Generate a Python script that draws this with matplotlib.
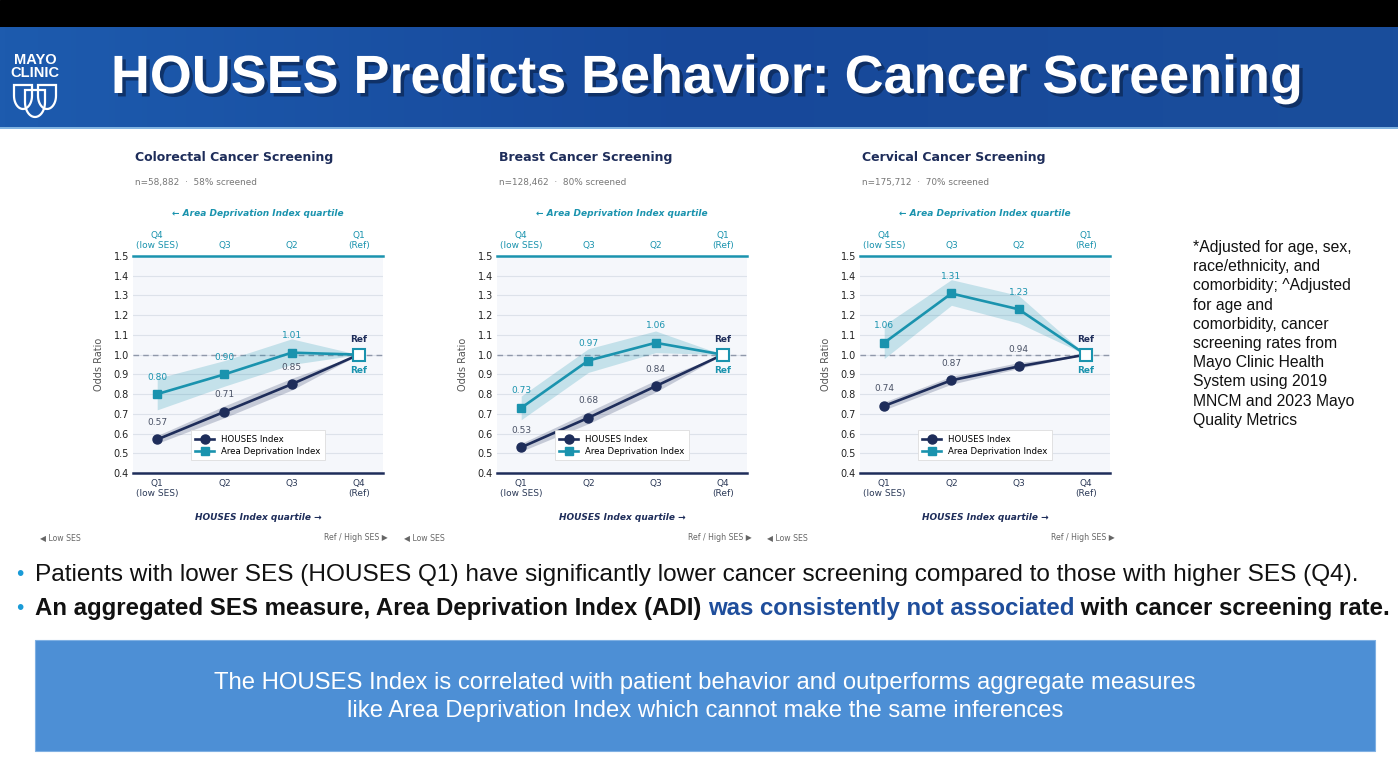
import numpy as np
import matplotlib
matplotlib.use("Agg")
import matplotlib.pyplot as plt
import matplotlib.patheffects as pe
from matplotlib.patches import Rectangle, Polygon

W, H = 1398, 757

# ---- data ----
panel_titles = ["Colorectal Cancer Screening", "Breast Cancer Screening", "Cervical Cancer Screening"]
panel_subtitles = ["n=58,882  ·  58% screened", "n=128,462  ·  80% screened", "n=175,712  ·  70% screened"]

houses_ticks = ["Q1\n(low SES)", "Q2", "Q3", "Q4\n(Ref)"]
adi_ticks = ["Q4\n(low SES)", "Q3", "Q2", "Q1\n(Ref)"]
quartile_pos = [0, 1, 2, 3]

colorectal_houses = [0.57, 0.71, 0.85, 1.00]
colorectal_houses_lo = [0.55, 0.68, 0.82, 1.00]
colorectal_houses_hi = [0.59, 0.74, 0.88, 1.00]
colorectal_adi = [0.80, 0.90, 1.01, 1.00]
colorectal_adi_lo = [0.72, 0.84, 0.95, 1.00]
colorectal_adi_hi = [0.88, 0.97, 1.08, 1.00]

breast_houses = [0.53, 0.68, 0.84, 1.00]
breast_houses_lo = [0.51, 0.65, 0.81, 1.00]
breast_houses_hi = [0.55, 0.71, 0.87, 1.00]
breast_adi = [0.73, 0.97, 1.06, 1.00]
breast_adi_lo = [0.67, 0.91, 1.01, 1.00]
breast_adi_hi = [0.79, 1.03, 1.12, 1.00]

cervical_houses = [0.74, 0.87, 0.94, 1.00]
cervical_houses_lo = [0.72, 0.85, 0.93, 1.00]
cervical_houses_hi = [0.76, 0.89, 0.96, 1.00]
cervical_adi = [1.06, 1.31, 1.23, 1.00]
cervical_adi_lo = [0.98, 1.25, 1.16, 1.00]
cervical_adi_hi = [1.15, 1.38, 1.30, 1.00]

y_ticks = [0.4, 0.5, 0.6, 0.7, 0.8, 0.9, 1.0, 1.1, 1.2, 1.3, 1.4, 1.5]

footnote = ("*Adjusted for age, sex,\nrace/ethnicity, and\ncomorbidity; ^Adjusted\nfor age and\n"
            "comorbidity, cancer\nscreening rates from\nMayo Clinic Health\nSystem using 2019\n"
            "MNCM and 2023 Mayo\nQuality Metrics")
bullet1 = "Patients with lower SES (HOUSES Q1) have significantly lower cancer screening compared to those with higher SES (Q4)."
bullet2_parts = ["An aggregated SES measure, Area Deprivation Index (ADI) ",
                 "was consistently not associated",
                 " with cancer screening rate."]
box_text = ("The HOUSES Index is correlated with patient behavior and outperforms aggregate measures\n"
            "like Area Deprivation Index which cannot make the same inferences")

panels = [
    (colorectal_houses, colorectal_houses_lo, colorectal_houses_hi, colorectal_adi, colorectal_adi_lo, colorectal_adi_hi),
    (breast_houses, breast_houses_lo, breast_houses_hi, breast_adi, breast_adi_lo, breast_adi_hi),
    (cervical_houses, cervical_houses_lo, cervical_houses_hi, cervical_adi, cervical_adi_lo, cervical_adi_hi),
]

NAVY = "#1e2d5a"
TEAL = "#1a93ae"
SLIDE_FONT = "Liberation Sans"

fig = plt.figure(figsize=(W / 100, H / 100), dpi=100)
fig.patch.set_facecolor("white")

# background axes in pixel coordinates
bg = fig.add_axes([0, 0, 1, 1])
bg.set_xlim(0, W)
bg.set_ylim(H, 0)
bg.axis("off")

# black strip + header gradient
bg.add_patch(Rectangle((0, 0), W, 27, color="black", zorder=1))
grad = np.linspace(0, 1, 256).reshape(1, -1)
cmap = matplotlib.colors.LinearSegmentedColormap.from_list("hdr", ["#1d5bae", "#17489a", "#1a4e9c"])
bg.imshow(grad, cmap=cmap, extent=(0, W, 127, 27), aspect="auto", zorder=1)
bg.plot([0, W], [127.5, 127.5], color="#6aa5dc", lw=1.2, zorder=2)
bg.set_xlim(0, W)
bg.set_ylim(H, 0)

title = bg.text(707, 79, "HOUSES Predicts Behavior: Cancer Screening", color="white",
                fontsize=38.8, fontweight="bold", family=SLIDE_FONT, ha="center", va="center", zorder=3)
title.set_path_effects([pe.SimplePatchShadow(offset=(2.5, -2.5), shadow_rgbFace="#0b2550", alpha=0.7),
                        pe.Normal()])

# logo
bg.text(35, 60, "MAYO", color="white", fontsize=10.5, fontweight="bold", family=SLIDE_FONT,
        ha="center", va="center", zorder=3)
bg.text(35, 73, "CLINIC", color="white", fontsize=10.5, fontweight="bold", family=SLIDE_FONT,
        ha="center", va="center", zorder=3)


def shield(cx, top, w, h):
    t = np.linspace(0, np.pi / 2, 12)
    right = [(cx + w / 2 * np.cos(a), top + h * 0.45 + h * 0.55 * np.sin(a)) for a in t]
    left = [(cx - w / 2 * np.cos(a), top + h * 0.45 + h * 0.55 * np.sin(a)) for a in t[::-1]]
    pts = [(cx - w / 2, top), (cx + w / 2, top)] + right + left
    return Polygon(pts, closed=True, fill=False, edgecolor="white", lw=1.6, zorder=3)


bg.add_patch(shield(23, 85, 18, 24))
bg.add_patch(shield(47, 85, 18, 24))
bg.add_patch(shield(35, 90, 20, 27))

# ---- chart panels ----
ax_left = [133, 497, 860]
ax_top, ax_w, ax_h = 256, 250, 217

for i, (h_or, h_lo, h_hi, a_or, a_lo, a_hi) in enumerate(panels):
    x0 = ax_left[i]
    cx = x0 + ax_w / 2
    ax = fig.add_axes([x0 / W, 1 - (ax_top + ax_h) / H, ax_w / W, ax_h / H])
    ax.set_facecolor("#f5f7fb")
    ax.set_xlim(-0.36, 3.36)
    ax.set_ylim(0.4, 1.5)
    ax.set_yticks(y_ticks)
    ax.set_yticklabels([f"{v:.1f}" for v in y_ticks])
    ax.grid(axis="y", color="#dde2ea", lw=0.8)
    ax.set_axisbelow(True)
    ax.tick_params(axis="y", length=0, pad=3, labelsize=7, labelcolor="#222222")
    ax.set_xticks(quartile_pos)
    ax.set_xticklabels(houses_ticks)
    ax.tick_params(axis="x", length=0, pad=4, labelsize=6.5, labelcolor="#2c3a58")
    for s in ["left", "right"]:
        ax.spines[s].set_visible(False)
    ax.spines["bottom"].set_color(NAVY)
    ax.spines["bottom"].set_linewidth(1.8)
    ax.spines["top"].set_color(TEAL)
    ax.spines["top"].set_linewidth(1.8)

    sec = ax.secondary_xaxis("top")
    sec.set_xticks(quartile_pos)
    sec.set_xticklabels(adi_ticks)
    sec.tick_params(length=0, pad=4, labelsize=6.5, labelcolor=TEAL)
    sec.spines["top"].set_visible(False)

    ax.axhline(1.0, color="#8f98aa", lw=1, ls=(0, (4, 3)), zorder=1)

    ax.fill_between(quartile_pos, a_lo, a_hi, color=TEAL, alpha=0.22, lw=0, zorder=2)
    ax.fill_between(quartile_pos, h_lo, h_hi, color=NAVY, alpha=0.22, lw=0, zorder=2)
    ax.plot(quartile_pos, a_or, color=TEAL, lw=1.9, zorder=3)
    ax.plot(quartile_pos[:3], a_or[:3], ls="none", marker="s", ms=6, color=TEAL, zorder=4)
    ax.plot(quartile_pos, h_or, color=NAVY, lw=1.9, zorder=3)
    ax.plot(quartile_pos[:3], h_or[:3], ls="none", marker="o", ms=6.5, color=NAVY, zorder=4)
    ax.plot([quartile_pos[3]], [a_or[3]], marker="s", ms=8, mfc="white", mec=TEAL, mew=1.5,
            ls="none", zorder=5)

    for x, v in zip(quartile_pos[:3], h_or[:3]):
        ax.annotate(f"{v:.2f}", (x, v), xytext=(0, 9), textcoords="offset points",
                    ha="center", va="bottom", fontsize=6.5, color="#4a5266", zorder=6)
    for x, v in zip(quartile_pos[:3], a_or[:3]):
        ax.annotate(f"{v:.2f}", (x, v), xytext=(0, 9), textcoords="offset points",
                    ha="center", va="bottom", fontsize=6.5, color=TEAL, zorder=6)
    ax.annotate("Ref", (3, 1.0), xytext=(0, 8), textcoords="offset points", ha="center",
                va="bottom", fontsize=6.5, fontweight="bold", color=NAVY)
    ax.annotate("Ref", (3, 1.0), xytext=(0, -8), textcoords="offset points", ha="center",
                va="top", fontsize=6.5, fontweight="bold", color=TEAL)

    hl, = ax.plot([], [], color=NAVY, lw=1.9, marker="o", ms=6.5, label="HOUSES Index")
    al, = ax.plot([], [], color=TEAL, lw=1.9, marker="s", ms=6, label="Area Deprivation Index")
    leg = ax.legend(handles=[hl, al], loc="lower center", bbox_to_anchor=(0.5, 0.04),
                    fontsize=6.2, frameon=True, framealpha=1, edgecolor="#dddddd",
                    fancybox=False, handlelength=2.2, borderpad=0.5, labelspacing=0.35)
    leg.get_frame().set_linewidth(0.6)

    ax.set_ylabel("Odds Ratio", fontsize=7, color="#555555", labelpad=7)

    # panel texts around the axes
    bg.text(x0 + 2, 157, panel_titles[i], fontsize=9, fontweight="bold", color=NAVY,
            ha="left", va="center")
    bg.text(x0 + 2, 183, panel_subtitles[i], fontsize=6.4, color="#777777", ha="left", va="center")
    bg.text(cx, 214, "\u2190 Area Deprivation Index quartile", fontsize=6.5, fontweight="bold",
            style="italic", color=TEAL, ha="center", va="center")
    bg.text(cx, 518, "HOUSES Index quartile \u2192", fontsize=6.5, fontweight="bold",
            style="italic", color=NAVY, ha="center", va="center")
    bg.text(x0 - 93, 538, "\u25c0 Low SES", fontsize=5.6, color="#666666", ha="left", va="center")
    bg.text(x0 + 255, 538, "Ref / High SES \u25b6", fontsize=5.6, color="#666666", ha="right", va="center")

# footnote
bg.text(1193, 240, footnote, fontsize=11.3, family=SLIDE_FONT, color="#111111",
        ha="left", va="top", linespacing=1.35)

# bullets
bg.text(16, 575, "\u2022", fontsize=15, color="#1a9bd7", family=SLIDE_FONT, ha="left", va="center")
bg.text(35, 575, bullet1, fontsize=17.6, family=SLIDE_FONT, color="#111111", ha="left", va="center")
bg.text(16, 608, "\u2022", fontsize=15, color="#1a9bd7", family=SLIDE_FONT, ha="left", va="center")
t1 = bg.text(35, 608, bullet2_parts[0], fontsize=17.3, fontweight="bold", family=SLIDE_FONT,
             color="#111111", ha="left", va="center")
t2 = bg.annotate(bullet2_parts[1], xy=(1, 0), xycoords=t1, va="bottom", ha="left",
                 fontsize=17.3, fontweight="bold", family=SLIDE_FONT, color="#1f4e9c")
bg.annotate(bullet2_parts[2], xy=(1, 0), xycoords=t2, va="bottom", ha="left",
            fontsize=17.3, fontweight="bold", family=SLIDE_FONT, color="#111111")

# conclusion box
bg.add_patch(Rectangle((35, 640), 1340, 111, facecolor="#4d8fd5", edgecolor="#7fb0e3", lw=0.8, zorder=1))
bg.text(705, 697, box_text, fontsize=17.2, family=SLIDE_FONT, color="white", ha="center",
        va="center", multialignment="center", linespacing=1.35, zorder=2)

fig.savefig("out.png", dpi=100, facecolor="white")
